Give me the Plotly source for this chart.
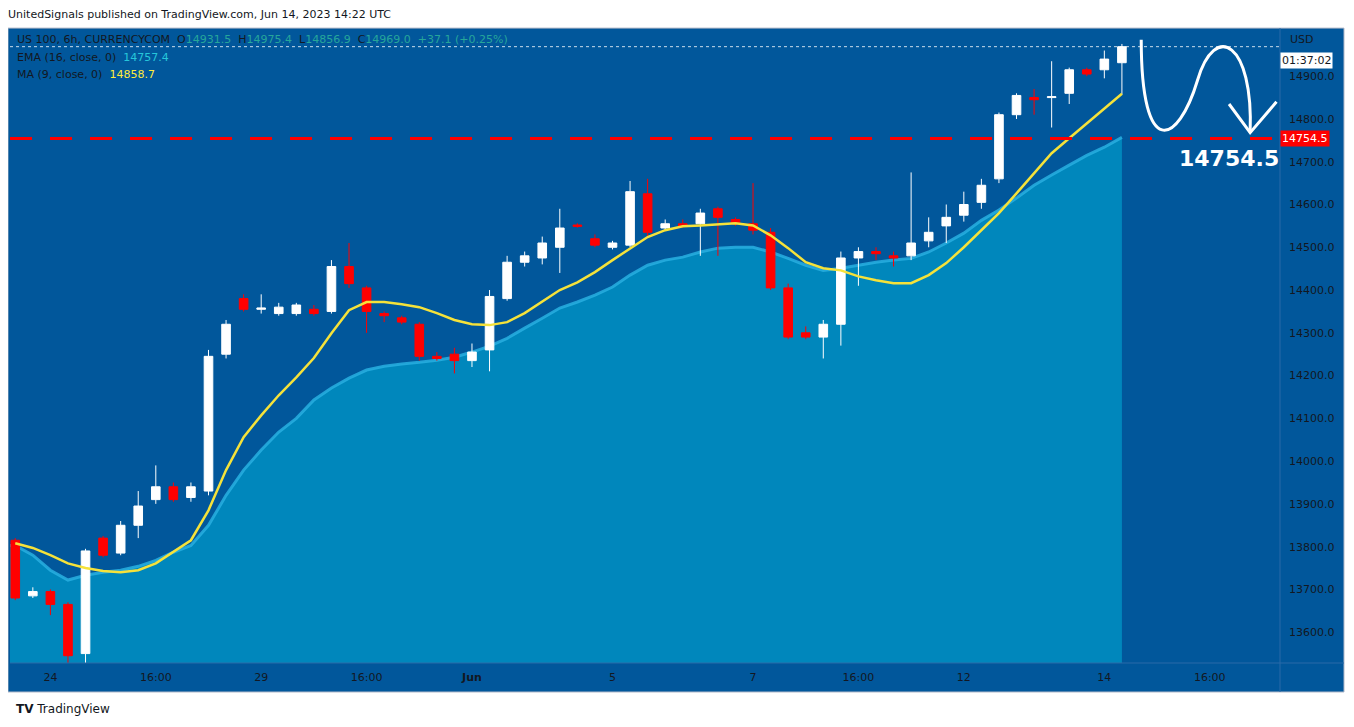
import plotly.graph_objects as go

opens  = [13815,13685,13695,13665,13550,13820,13785,13850,13910,13940,13915,13930,14250,14380,14355,14345,14345,14355,14350,14455,14405,14345,14335,14320,14245,14250,14235,14260,14380,14465,14475,14500,14552,14520,14500,14505,14625,14545,14555,14555,14590,14565,14555,14535,14405,14300,14290,14320,14475,14490,14480,14480,14515,14550,14575,14605,14660,14810,14850,14850,14860,14915,14915,14931.5]
highs  = [13820,13705,13700,13670,13795,13825,13860,13930,13990,13950,13950,14260,14330,14390,14390,14370,14370,14365,14470,14510,14410,14350,14340,14325,14255,14265,14275,14400,14480,14490,14525,14590,14556,14530,14515,14655,14660,14565,14565,14590,14595,14570,14650,14545,14415,14315,14330,14490,14500,14500,14490,14675,14570,14600,14630,14660,14815,14860,14870,14935,14920,14920,14960,14975.4]
lows   = [13675,13680,13640,13525,13525,13775,13780,13820,13900,13905,13905,13920,14240,14350,14345,14340,14340,14340,14345,14405,14300,14325,14320,14235,14235,14205,14220,14210,14375,14455,14460,14440,14546,14500,14495,14500,14525,14540,14545,14480,14480,14550,14530,14400,14285,14285,14240,14270,14410,14470,14455,14470,14500,14510,14560,14590,14650,14800,14810,14780,14835,14900,14895,14856.9]
closes = [13680,13695,13665,13545,13790,13780,13850,13895,13940,13910,13940,14245,14320,14355,14358,14360,14365,14345,14455,14415,14350,14340,14325,14245,14240,14235,14255,14385,14465,14480,14510,14545,14549,14505,14510,14630,14535,14555,14550,14580,14570,14555,14540,14405,14290,14290,14320,14475,14490,14485,14475,14510,14535,14570,14600,14645,14810,14855,14845,14852,14915,14905,14940,14969.0]
ma9 = [13808,13797,13780,13761,13750,13743,13740,13745,13761,13787,13815,13885,13979,14056,14107,14154,14196,14241,14299,14353,14372,14372,14367,14360,14346,14330,14320,14318,14325,14346,14372,14400,14418,14442,14470,14498,14524,14540,14549,14551,14554,14556,14551,14528,14498,14465,14451,14446,14432,14423,14416,14416,14435,14463,14500,14540,14580,14626,14673,14720,14755,14790,14825,14859]
ema16 = [13803,13780,13745,13722,13733,13740,13745,13754,13768,13787,13803,13850,13920,13979,14026,14068,14100,14143,14171,14194,14213,14222,14227,14231,14236,14243,14255,14269,14287,14311,14334,14358,14372,14388,14407,14435,14458,14470,14477,14489,14498,14500,14500,14489,14474,14458,14446,14451,14458,14465,14470,14474,14489,14510,14533,14563,14587,14615,14645,14669,14692,14715,14734,14757]
tick_pos = [2, 8, 14, 20, 26, 34, 42, 48, 54, 62, 68]
tick_text = ["24", "16:00", "29", "16:00", "<b>Jun</b>", "5", "7", "16:00", "12", "14", "16:00"]
y_ticks = [13600,13700,13800,13900,14000,14100,14200,14300,14400,14500,14600,14700,14800,14900]
level = 14754.5
last_close = 14969.0

idx = list(range(len(opens)))
BG = "#01579b"
Y0, Y1 = 13528, 15008
X0, X1 = -0.3, 72.0
fig = go.Figure()

pts = " ".join(f"L {i} {v}" for i, v in zip(idx, ema16))
area = f"M {X0} {Y0} L {X0} {ema16[0]} {pts} L {idx[-1]} {Y0} Z"
fig.add_shape(type="path", xref="x", yref="y", path=area, layer="below",
              fillcolor="rgba(0,175,215,0.55)", line=dict(width=0))
edge = f"M {X0} {ema16[0]} " + pts
fig.add_shape(type="path", xref="x", yref="y", path=edge, layer="below",
              line=dict(color="rgba(40,175,225,0.85)", width=3))

fig.add_trace(go.Scatter(x=idx, y=ma9, mode="lines", line=dict(color="#f5e23a", width=2.5), hoverinfo="skip"))
fig.add_trace(go.Candlestick(x=idx, open=opens, high=highs, low=lows, close=closes,
    increasing=dict(line=dict(color="#ffffff", width=1), fillcolor="#ffffff"),
    decreasing=dict(line=dict(color="#ff0000", width=1), fillcolor="#ff0000"),
    whiskerwidth=0, hoverinfo="skip"))

fig.add_hline(y=level, line=dict(color="#ff0000", width=3, dash="22px,18px"))
fig.add_hline(y=last_close, line=dict(color="rgba(255,255,255,0.8)", width=1, dash="dot"))

fig.add_shape(type="path", xref="x", yref="y",
              path="M 64.1 14985 C 64.1 14700, 66.2 14740, 67.3 14890 C 68.3 15030, 70.5 14980, 70.3 14768",
              line=dict(color="white", width=3))
fig.add_shape(type="path", xref="x", yref="y",
              path="M 69.1 14835 L 70.3 14768 L 71.8 14840",
              line=dict(color="white", width=3))

fig.add_annotation(x=69.1, y=level, yshift=-20, text="<b>14754.5</b>", showarrow=False,
                   font=dict(color="white", size=22, family="DejaVu Sans"))

fig.update_layout(
    width=1354, height=727, paper_bgcolor="white", plot_bgcolor=BG,
    margin=dict(l=2, r=82, t=22, b=72), showlegend=False,
    font=dict(family="DejaVu Sans", size=11, color="#131722"),
    xaxis=dict(range=[X0, X1], tickvals=tick_pos, ticktext=tick_text, showgrid=False,
               rangeslider=dict(visible=False), zeroline=False, ticks="",
               tickfont=dict(size=11, color="#131722"), ticklabelstandoff=6, showline=False),
    yaxis=dict(range=[Y0, Y1], side="right", tickvals=y_ticks,
               ticktext=[f"{v:.1f}" for v in y_ticks], showgrid=False, zeroline=False,
               tickfont=dict(size=11, color="#131722"), ticklabelstandoff=8),
)
fig.add_shape(type="rect", xref="paper", yref="paper", x0=-0.0016, x1=1.0504, y0=-0.0458, y1=1.003,
              fillcolor=BG, line=dict(color="#b0b8c8", width=1), layer="below")
fig.add_shape(type="line", xref="paper", yref="paper", x0=1.0, x1=1.0, y0=-0.0458, y1=1.003,
              line=dict(color="#2a6aa8", width=1))
fig.add_shape(type="line", xref="paper", yref="paper", x0=0, x1=1.0504, y0=0, y1=0,
              line=dict(color="#2a6aa8", width=1))

fig.add_annotation(xref="paper", yref="paper", x=-0.003, y=1.025, xanchor="left", yanchor="middle",
                   text="UnitedSignals published on TradingView.com, Jun 14, 2023 14:22 UTC",
                   showarrow=False, font=dict(size=11, color="#131722"))
g = "#26a69a"
leg = ("US 100, 6h, CURRENCYCOM  O<span style='color:%s'>14931.5</span>  H<span style='color:%s'>14975.4</span>"
       "  L<span style='color:%s'>14856.9</span>  C<span style='color:%s'>14969.0</span>  <span style='color:%s'>+37.1 (+0.25%%)</span>") % (g, g, g, g, g)
fig.add_annotation(xref="paper", yref="paper", x=0.004, y=0.985, xanchor="left", yanchor="middle",
                   text=leg, showarrow=False, font=dict(size=11, color="#131722"))
fig.add_annotation(xref="paper", yref="paper", x=0.004, y=0.957, xanchor="left", yanchor="middle",
                   text="EMA (16, close, 0)  <span style='color:#26c6da'>14757.4</span>", showarrow=False,
                   font=dict(size=11, color="#131722"))
fig.add_annotation(xref="paper", yref="paper", x=0.004, y=0.929, xanchor="left", yanchor="middle",
                   text="MA (9, close, 0)  <span style='color:#ffeb3b'>14858.7</span>", showarrow=False,
                   font=dict(size=11, color="#131722"))
fig.add_annotation(xref="paper", yref="paper", x=1.006, y=0.985, xanchor="left", yanchor="middle",
                   text="USD", showarrow=False, font=dict(size=11, color="#131722"))
fig.add_annotation(xref="paper", yref="y", x=1.0, y=last_close, yshift=-14, xanchor="left",
                   text="01:37:02", showarrow=False, bgcolor="white", font=dict(size=11, color="#131722"))
fig.add_annotation(xref="paper", yref="y", x=1.0, y=level, xanchor="left",
                   text="14754.5", showarrow=False, bgcolor="#ff0000", font=dict(size=11, color="white"))
fig.add_annotation(xref="paper", yref="paper", x=0.003, y=-0.0727, xanchor="left", yanchor="middle",
                   text="<b>TV</b> TradingView", showarrow=False, font=dict(size=12, color="#131722"))

fig.write_html("out.html")
